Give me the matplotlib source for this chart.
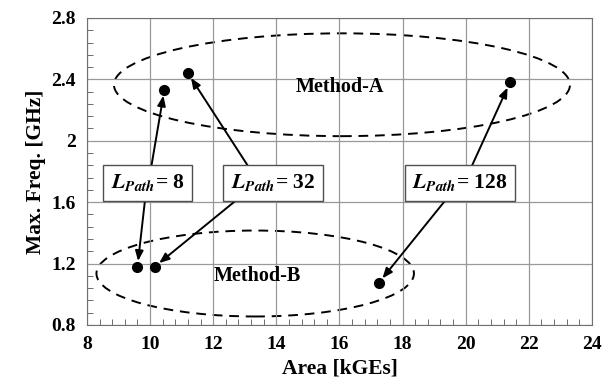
import matplotlib
matplotlib.use("Agg")
import matplotlib.pyplot as plt
from matplotlib.patches import Ellipse
from matplotlib.ticker import MultipleLocator, FuncFormatter

# data
area_a = [10.45, 11.2, 21.4]     # Method-A, L_Path = 8, 32, 128
freq_a = [2.33, 2.44, 2.38]
area_b = [9.6, 10.15, 17.25]     # Method-B, L_Path = 8, 32, 128
freq_b = [1.18, 1.18, 1.075]
path_lengths = [8, 32, 128]
xticks = [8, 10, 12, 14, 16, 18, 20, 22, 24]
yticks = [0.8, 1.2, 1.6, 2.0, 2.4, 2.8]

plt.rcParams['font.family'] = 'Liberation Serif'
plt.rcParams['font.weight'] = 'bold'
plt.rcParams['mathtext.fontset'] = 'stix'

fig = plt.figure(figsize=(6.04, 3.91), dpi=100)
ax = fig.add_axes([0.144, 0.169, 0.836, 0.785])

ax.plot(area_a, freq_a, 'o', color='black', ms=7, zorder=5)
ax.plot(area_b, freq_b, 'o', color='black', ms=7, zorder=5)

ax.set_xlim(8, 24)
ax.set_ylim(0.8, 2.8)
ax.set_xticks(xticks)
ax.set_yticks(yticks)
ax.xaxis.set_minor_locator(MultipleLocator(0.4))
ax.yaxis.set_minor_locator(MultipleLocator(0.08))
ax.yaxis.set_major_formatter(FuncFormatter(lambda v, p: '%g' % v))
ax.tick_params(which='both', direction='in', color='#555555')
ax.tick_params(which='major', length=0, labelsize=14, pad=8)
ax.tick_params(which='minor', length=4)
ax.grid(True, which='major', color='#999999', lw=0.9)
for s in ax.spines.values():
    s.set_color('#707070')
for lab in ax.get_xticklabels() + ax.get_yticklabels():
    lab.set_fontweight('bold')

ax.set_xlabel('Area [kGEs]', fontsize=15.5, fontweight='bold')
ax.set_ylabel('Max. Freq. [GHz]', fontsize=15.5, fontweight='bold')

# group ellipses
ax.add_patch(Ellipse((16.08, 2.365), 14.45, 0.67, fill=False, ls=(0, (5, 3.5)),
                     lw=1.4, color='black'))
ax.add_patch(Ellipse((13.33, 1.135), 10.06, 0.56, fill=False, ls=(0, (5, 3.5)),
                     lw=1.4, color='black'))
ax.text(16.0, 2.35, 'Method-A', fontsize=14.5, fontweight='bold',
        ha='center', va='center')
ax.text(13.4, 1.12, 'Method-B', fontsize=14.5, fontweight='bold',
        ha='center', va='center')

# labelled boxes with arrows to both methods
box_x = [9.93, 13.9, 19.82]
box_y = 1.725
tail_x = [(9.95, 9.9), (13.45, 13.4), (19.95, 19.8)]
arrow = dict(arrowstyle='-|>,head_length=0.5,head_width=0.2', color='black',
             lw=1.4, mutation_scale=12, shrinkA=0, shrinkB=4)
for i, n in enumerate(path_lengths):
    ax.annotate('', xy=(area_a[i], freq_a[i]), xytext=(tail_x[i][0], box_y),
                arrowprops=arrow, zorder=3)
    ax.annotate('', xy=(area_b[i], freq_b[i]), xytext=(tail_x[i][1], box_y),
                arrowprops=arrow, zorder=3)
    ax.text(box_x[i], box_y, r'$\mathbfit{L}_{\mathbfit{Path}}$= %d' % n,
            fontsize=15.5, fontweight='bold', ha='center', va='center', zorder=6,
            bbox=dict(boxstyle='square,pad=0.35', fc='white', ec='#505050', lw=1))

plt.savefig('out.png', dpi=100)
